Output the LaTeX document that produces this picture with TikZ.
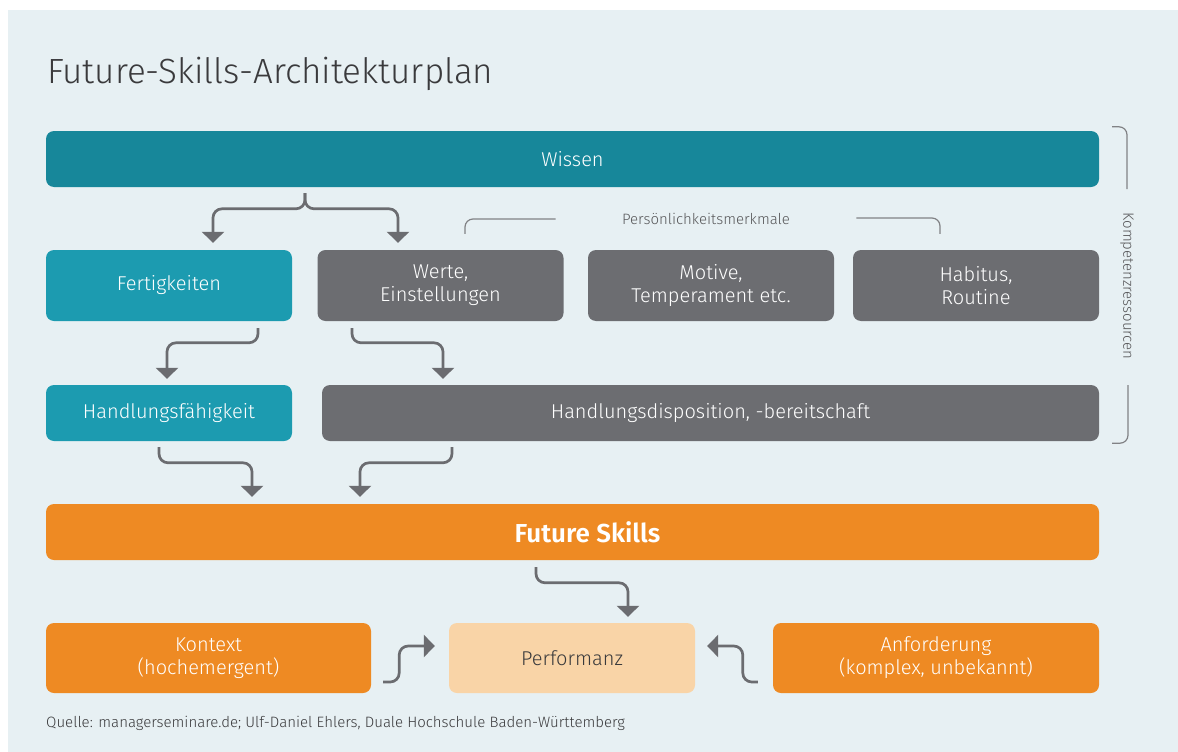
\documentclass[tikz,border=0pt]{standalone}
\usepackage{fontspec}
\setmainfont{Fira Sans}[UprightFont={* Light},BoldFont={* SemiBold}]
\usepackage{tikz}
\usetikzlibrary{arrows.meta, calc, positioning}
\definecolor{panel}{HTML}{E7F0F3}
\definecolor{darkteal}{HTML}{17879A}
\definecolor{teal}{HTML}{1C9BB0}
\definecolor{boxgray}{HTML}{6C6D71}
\definecolor{orange}{HTML}{EE8A23}
\definecolor{lightorange}{HTML}{F9D4A7}
\definecolor{linegray}{HTML}{6B6C70}
\definecolor{textgray}{HTML}{3A3A3C}

\begin{document}
\begin{tikzpicture}[x=1pt,y=-1pt,
  box/.style={rounded corners=8pt, minimum height=56pt, text=white, align=center, inner sep=0pt, font=\fontsize{20}{23}\selectfont},
  link/.style={draw=linegray, line width=2.7pt, rounded corners=9pt, -{Triangle[width=22pt,length=11pt]}},
  bracket/.style={draw=linegray!85, line width=1.2pt, rounded corners=8pt}]
\useasboundingbox (0,0) rectangle (1178,752);
\fill[white] (0,0) rectangle (1178,752);
\fill[panel] (8,10) rectangle (1178,752);
\node[anchor=base west, text=textgray, font=\fontsize{35}{40}\selectfont, inner sep=0pt] (title) at (47,83) {Future-Skills-Architekturplan};
% boxes
\node[box, fill=darkteal, minimum width=1053pt] (wissen) at (572.5,159) {Wissen};
\node[box, fill=teal, minimum width=246pt, minimum height=71pt] (fert) at (169,285.5) {Fertigkeiten};
\node[box, fill=boxgray, minimum width=246pt, minimum height=71pt] (werte) at (440.5,285.5) {Werte,\\Einstellungen};
\node[box, fill=boxgray, minimum width=246pt, minimum height=71pt] (motive) at (711,285.5) {Motive,\\Temperament etc.};
\node[box, fill=boxgray, minimum width=246pt, minimum height=71pt] (habitus) at (976,285.5) {Habitus,\\Routine};
\node[box, fill=teal, minimum width=246pt] (hfaeh) at (169,413) {Handlungsfähigkeit};
\node[box, fill=boxgray, minimum width=777pt] (hdisp) at (710.5,413) {Handlungsdisposition, -bereitschaft};
\node[box, fill=orange, minimum width=1053pt, font=\fontsize{26}{30}\selectfont\bfseries] (fskills) at (572.5,532) {\hspace*{30pt}Future Skills};
\node[box, fill=orange, minimum width=325pt, minimum height=70pt] (kontext) at (208.5,658) {Kontext\\(hochemergent)};
\node[box, fill=lightorange, minimum width=246pt, minimum height=70pt, text=textgray] (perf) at (572,658) {Performanz};
\node[box, fill=orange, minimum width=326pt, minimum height=70pt] (anf) at (936,658) {Anforderung\\(komplex, unbekannt)};
% labels
\node[text=textgray!85, font=\fontsize{15}{17}\selectfont] (pm) at (706,219) {Persönlichkeitsmerkmale};
\node[rotate=-90, text=textgray!85, font=\fontsize{15}{17}\selectfont] (kr) at (1127,286) {Kompetenzressourcen};
\node[anchor=base west, text=textgray, font=\fontsize{15}{17}\selectfont, inner sep=0pt] (quelle) at (46,727) {Quelle: managerseminare.de; Ulf-Daniel Ehlers, Duale Hochschule Baden-Württemberg};
% brackets
\draw[bracket] ($(pm.west)+(-63,0)$) -| ($(werte.north)+(24.5,-16)$);
\draw[bracket] ($(pm.east)+(63,-1)$) -| ($(habitus.north)+(-36,-16)$);
\draw[bracket] ($(wissen.north east)+(13,-4)$) -| ($(kr.center)+(0,-97)$);
\draw[bracket] ($(kr.center)+(1,99)$) |- ($(hdisp.south east)+(13,2)$);
% connectors
\draw[link] ($(wissen.south)+(-267.5,6)$) |- ($(fert.north)+(44,-41)$) -- ($(fert.north)+(44,-7)$);
\draw[link] ($(wissen.south)+(-267.5,6)$) |- ($(werte.north)+(-42.5,-41)$) -- ($(werte.north)+(-42.5,-7)$);
\draw[link] ($(fert.south)+(89,7)$) |- ($(hfaeh.north)+(-2,-42)$) -- ($(hfaeh.north)+(-2,-6)$);
\draw[link] ($(werte.south)+(-88.5,7)$) |- ($(hdisp.north)+(-267.5,-42)$) -- ($(hdisp.north)+(-267.5,-6)$);
\draw[link] ($(hfaeh.south)+(-10,6)$) |- ($(fskills.north)+(-320.5,-41)$) -- ($(fskills.north)+(-320.5,-7)$);
\draw[link] ($(hdisp.south)+(-258.5,6)$) |- ($(fskills.north)+(-212.5,-41)$) -- ($(fskills.north)+(-212.5,-7)$);
\draw[link] ($(fskills.south)+(-36.5,7)$) |- ($(perf.north)+(56,-40)$) -- ($(perf.north)+(56,-6)$);
\draw[link] ($(kontext.east)+(12,24)$) -- ($(kontext.east)+(28,24)$) |- ($(perf.west)+(-14,-12)$);
\draw[link] ($(anf.west)+(-15,24)$) -- ($(anf.west)+(-30,24)$) |- ($(perf.east)+(12,-12)$);
\end{tikzpicture}
\end{document}
